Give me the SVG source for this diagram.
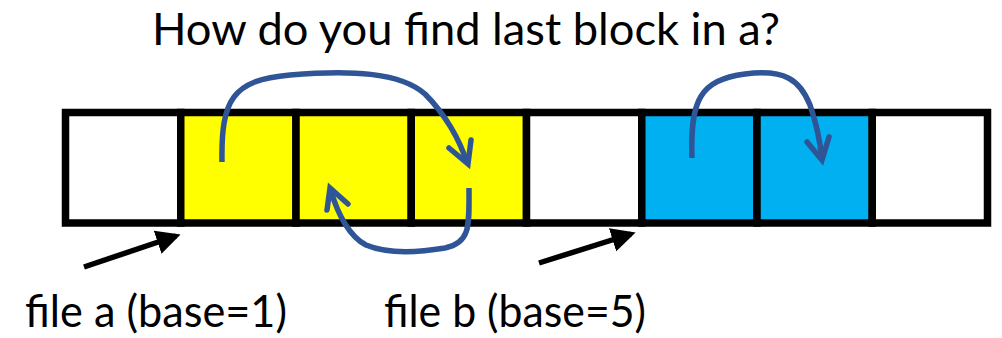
<svg xmlns="http://www.w3.org/2000/svg" width="1002" height="338" viewBox="0 0 1002 338">
  <style>
    .txt { font-family: "Lato", "Open Sans", "Liberation Sans", sans-serif; font-size: 45px; fill: #000; }
    .cell { stroke: #000; stroke-width: 7.5; }
    .empty { fill: #FFFFFF; }
    .fa { fill: #FFFF00; }
    .fb { fill: #00B0F0; }
    .link { fill: none; stroke: #2F5597; stroke-width: 5.5; stroke-linecap: butt; }
    .head { fill: none; stroke: #2F5597; stroke-width: 5.5; stroke-linecap: round; stroke-linejoin: miter; }
    .ptr { stroke: #000; stroke-width: 5.5; fill: none; }
  </style>
  <defs>
    <marker id="tri" viewBox="0 0 10 10" refX="8" refY="5" markerWidth="4.4" markerHeight="4.4" orient="auto" markerUnits="strokeWidth">
      <path d="M0,0 L10,5 L0,10 z" fill="#000"/>
    </marker>
  </defs>

  <rect width="1002" height="338" fill="#FFFFFF"/>

  <text id="title" class="txt" x="152" y="45" textLength="628" lengthAdjust="spacingAndGlyphs">How do you find last block in a?</text>

  <!-- disk blocks 0..7 -->
  <g id="block0"><rect class="cell empty" x="65.5" y="112.5" width="115.25" height="110.5"/></g>
  <g id="block1"><rect class="cell fa" x="180.75" y="112.5" width="115.25" height="110.5"/></g>
  <g id="block2"><rect class="cell fa" x="296" y="112.5" width="115.25" height="110.5"/></g>
  <g id="block3"><rect class="cell fa" x="411.25" y="112.5" width="115.25" height="110.5"/></g>
  <g id="block4"><rect class="cell empty" x="526.5" y="112.5" width="115.25" height="110.5"/></g>
  <g id="block5"><rect class="cell fb" x="641.75" y="112.5" width="115.25" height="110.5"/></g>
  <g id="block6"><rect class="cell fb" x="757" y="112.5" width="115.25" height="110.5"/></g>
  <g id="block7"><rect class="cell empty" x="872.25" y="112.5" width="115.25" height="110.5"/></g>

  <g id="connectors">
    <!-- file a: block1 -> block3 -> block2 -->
    <path class="link" d="M222,162 C221,100 232,80 290,75 C350,70 400,72 425,94 C445,114 460,140 467,163"/>
    <polyline class="head" points="449,148 468,164 471,140"/>
    <path class="link" d="M469,188 C469,225 471,243 445,248 C415,253 385,253 366,245 C350,237 338,215 331,191"/>
    <polyline class="head" points="327,210 330,188 348,204"/>

    <!-- file b: block5 -> block6 -->
    <path class="link" d="M692,158 C690,100 700,80 745,74 C785,69 800,80 810,105 C816,122 820,140 822,160"/>
    <polyline class="head" points="807,142 822,160 829,137"/>

    <!-- base pointers -->
    <line class="ptr" x1="84" y1="267" x2="176" y2="236" marker-end="url(#tri)"/>
    <line class="ptr" x1="539" y1="263" x2="631" y2="234" marker-end="url(#tri)"/>
  </g>

  <g id="label-a"><text class="txt" x="25" y="327" textLength="262" lengthAdjust="spacingAndGlyphs">file a (base=1)</text></g>
  <g id="label-b"><text class="txt" x="384" y="327" textLength="262" lengthAdjust="spacingAndGlyphs">file b (base=5)</text></g>
</svg>
